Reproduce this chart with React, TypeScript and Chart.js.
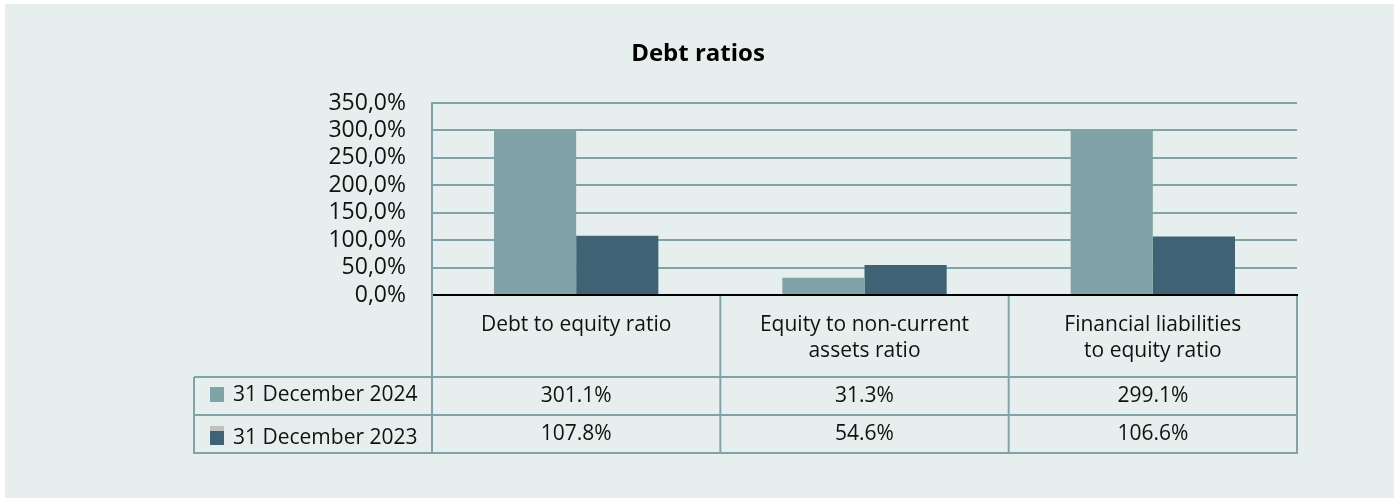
import React, { useEffect, useRef } from "react";
import { Chart, registerables } from "chart.js";

Chart.register(...registerables);

const title = "Debt ratios";
const categories: string[][] = [
  ["Debt to equity ratio"],
  ["Equity to non-current", "assets ratio"],
  ["Financial liabilities", "to equity ratio"],
];
const seriesNames = ["31 December 2024", "31 December 2023"];
const values2024 = [301.1, 31.3, 299.1];
const values2023 = [107.8, 54.6, 106.6];
const yMax = 350;
const yStep = 50;

const COLOR_2024 = "#80a3a7";
const COLOR_2023 = "#3f6374";
const GRID = "#80a3a8";
const PANEL = "#e7efee";
const FONT = "'Open Sans', sans-serif";
const TEXT_SIZE = 21;

const W = 1399;
const H = 498;

const fmtTick = (v: number) => v.toFixed(1).replace(".", ",") + "%";
const fmtVal = (v: number) => v.toFixed(1) + "%";

const tablePlugin = {
  id: "tablePlugin",
  beforeDraw(chart: any) {
    const ctx = chart.ctx;
    ctx.save();
    ctx.fillStyle = "#ffffff";
    ctx.fillRect(0, 0, W, H);
    ctx.fillStyle = PANEL;
    ctx.fillRect(5, 4, 1389, H - 4);
    ctx.restore();
  },
  afterDraw(chart: any) {
    const ctx = chart.ctx;
    const x = chart.scales.x;
    const area = chart.chartArea;
    const n = categories.length;
    const cw = (area.right - area.left) / n;
    const top = area.bottom;
    const row1 = 377;
    const row2 = 415;
    const bottom = 453;
    const left = 194;
    ctx.save();
    // title
    ctx.font = `bold 24px ${FONT}`;
    ctx.textAlign = "center";
    ctx.textBaseline = "alphabetic";
    ctx.fillStyle = "#000000";
    ctx.fillText(title, 698, 61);

    ctx.strokeStyle = GRID;
    ctx.lineWidth = 2;
    const line = (x1: number, y1: number, x2: number, y2: number) => {
      ctx.beginPath();
      ctx.moveTo(x1, y1);
      ctx.lineTo(x2, y2);
      ctx.stroke();
    };
    line(area.left, top, area.left, bottom);
    for (let i = 0; i < n; i++) {
      const r = x.getPixelForTick(i) + cw / 2;
      line(r, top + 1, r, bottom);
    }
    line(left, row1, left, bottom + 1);
    line(left, row1, area.right, row1);
    line(left, row2, area.right, row2);
    line(left, bottom, area.right + 1, bottom);

    // row labels with legend squares
    ctx.font = `${TEXT_SIZE}px ${FONT}`;
    ctx.textBaseline = "middle";
    ctx.textAlign = "left";
    ctx.fillStyle = COLOR_2024;
    ctx.fillRect(210, 387, 14, 15);
    ctx.fillStyle = "#c0c0c0";
    ctx.fillRect(210, 426, 14, 5);
    ctx.fillStyle = COLOR_2023;
    ctx.fillRect(210, 431, 14, 14);
    ctx.fillStyle = "#111111";
    ctx.fillText(seriesNames[0], 233, 395);
    ctx.fillText(seriesNames[1], 233, 438);

    ctx.textAlign = "center";
    const rows = [values2024, values2023];
    const ys = [396, 434];
    rows.forEach((vals, r) => {
      vals.forEach((v, i) => {
        ctx.fillText(fmtVal(v), x.getPixelForTick(i), ys[r]);
      });
    });
    ctx.restore();
  },
};

export default function App() {
  const ref = useRef<HTMLCanvasElement | null>(null);
  useEffect(() => {
    document.body.style.margin = "0";
    const canvas = ref.current;
    if (!canvas) return;
    const chart = new Chart(canvas, {
      type: "bar",
      data: {
        labels: categories as any,
        datasets: [
          {
            label: seriesNames[0],
            data: values2024,
            backgroundColor: COLOR_2024,
            categoryPercentage: 0.57,
            barPercentage: 1,
          },
          {
            label: seriesNames[1],
            data: values2023,
            backgroundColor: COLOR_2023,
            categoryPercentage: 0.57,
            barPercentage: 1,
          },
        ],
      },
      options: {
        animation: false,
        responsive: false,
        devicePixelRatio: 1,
        layout: { padding: { left: 0, right: W - 1297, top: 103, bottom: H - 453 } },
        plugins: {
          legend: { display: false },
          tooltip: { enabled: false },
          title: { display: false },
        },
        scales: {
          x: {
            grid: { display: false, drawTicks: false },
            border: { display: true, color: "#000000", width: 2 },
            ticks: {
              color: "#111111",
              font: { family: FONT, size: TEXT_SIZE, lineHeight: 1.24 },
              padding: 17,
              maxRotation: 0,
              autoSkip: false,
            },
            afterFit: (s: any) => {
              s.height = 453 - 295;
            },
          },
          y: {
            min: 0,
            max: yMax,
            grid: {
              color: (c: any) => (c.tick && c.tick.value === 0 ? "#000000" : GRID),
              lineWidth: 2,
              drawTicks: false,
            },
            border: { display: true, color: GRID, width: 2 },
            ticks: {
              stepSize: yStep,
              autoSkip: false,
              color: "#111111",
              font: { family: FONT, size: 23, lineHeight: 1 },
              padding: 26,
              callback: (v: any) => fmtTick(Number(v)),
            },
            afterFit: (s: any) => {
              s.width = 432;
            },
          },
        },
      },
      plugins: [tablePlugin],
    });
    return () => chart.destroy();
  }, []);
  return <canvas ref={ref} width={W} height={H} style={{ display: "block", width: W, height: H }} />;
}
